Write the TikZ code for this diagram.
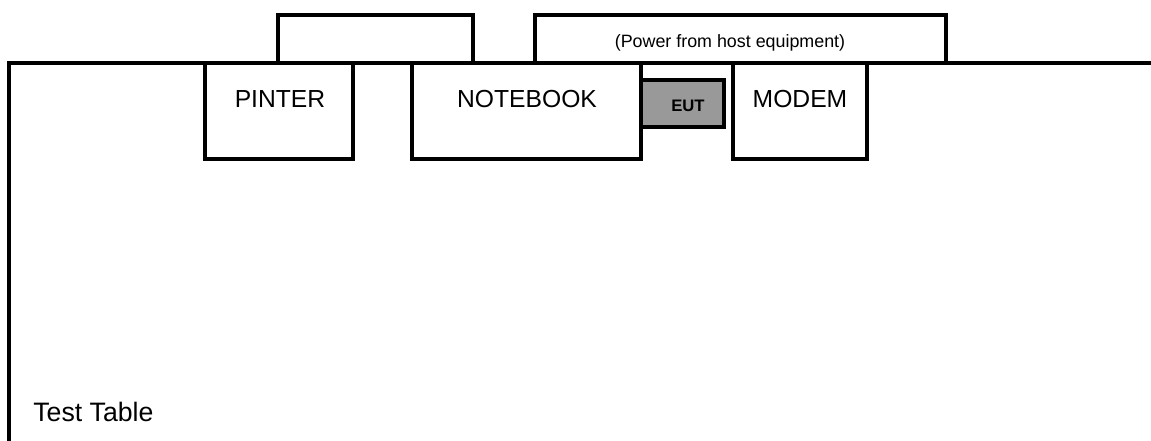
\documentclass[tikz,border=0pt]{standalone}
\usepackage{fontspec}
\setmainfont{Liberation Sans}
\definecolor{eutgray}{HTML}{999999}

\begin{document}
\begin{tikzpicture}[x=.75pt,y=-.75pt,line width=3pt,
  lbl/.style={anchor=center,inner sep=1pt,font=\fontsize{18.5}{20}\selectfont}]
\path[use as bounding box] (0,0) rectangle (1151,441);
% table edge
\draw (9,441) -- (9,63) -- (1151,63);
% cables
\draw (278,63) -- (278,15) -- (473,15) -- (473,63);
\draw (535,63) -- (535,15) -- (946,15) -- (946,63);
\node[inner sep=0pt,font=\fontsize{13.4}{15}\selectfont] (power) at (730,43) {(Power from host equipment)};
% units
\draw[fill=white] (205,63) rectangle (353,159);
\node[lbl] (pinter) at (280,99) {PINTER};
\draw[fill=white] (412,63) rectangle (641,159);
\node[lbl] (notebook) at (527,99) {NOTEBOOK};
\draw[fill=eutgray] (641,80) rectangle (724,127);
\node[inner sep=0pt,font=\bfseries\fontsize{12.5}{14}\selectfont] (eut) at (688,106) {EUT};
\draw[fill=white] (733,63) rectangle (867,159);
\node[lbl] (modem) at (800,99) {MODEM};
\node[lbl,anchor=west,font=\fontsize{20}{22}\selectfont] (table) at (30,412) {Test Table};
\end{tikzpicture}
\end{document}
